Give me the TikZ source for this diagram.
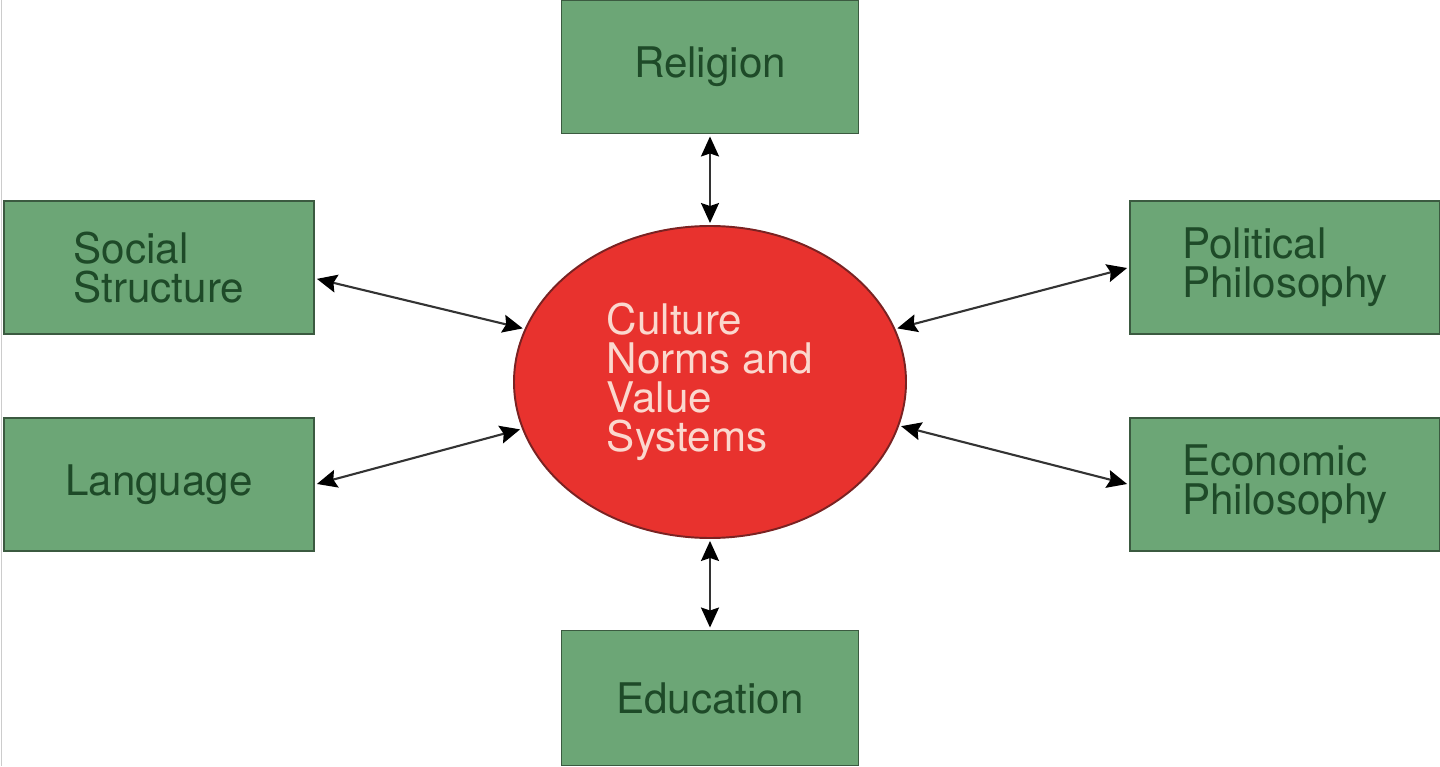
\documentclass[tikz,border=0pt]{standalone}
\usepackage{fontspec}
\setmainfont{TeX Gyre Heros}
\usetikzlibrary{arrows.meta,shapes.geometric}

\definecolor{boxfill}{HTML}{6CA676}
\definecolor{boxline}{HTML}{3B5A40}
\definecolor{boxtext}{HTML}{1E4A28}
\definecolor{corefill}{HTML}{E8322E}
\definecolor{coreline}{HTML}{7A2222}
\definecolor{coretext}{HTML}{FBD8CE}

\tikzset{
    factor/.style={draw=boxline, line width=1.1pt, fill=boxfill, text=boxtext,
        minimum width=6.2cm, minimum height=2.66cm, align=left,
        font=\fontsize{24}{22.2}\selectfont},
    core/.style={ellipse, draw=coreline, line width=1.1pt, fill=corefill, text=coretext,
        minimum width=7.84cm, minimum height=6.24cm, align=left,
        font=\fontsize{24}{22.2}\selectfont},
    tip/.tip={Stealth[length=0.4cm,width=0.36cm,inset=0.06cm,black]},
    link/.style={tip-tip, line width=1.2pt, draw=black!80,
        shorten <=0.04cm, shorten >=0.04cm}
}

\begin{document}
\begin{tikzpicture}
    \useasboundingbox (0,0) rectangle (28.8,15.32);
    \draw[gray!40, line width=1pt] (0.03,0) -- (0.03,15.32);

    \node[core] (cult) at (14.2,7.68) {Culture\\Norms and\\Value\\Systems};

    \node[factor, minimum width=5.94cm] (rel) at (14.2,13.98) {Religion};
    \node[factor, minimum width=5.94cm, minimum height=2.7cm] (edu) at (14.2,1.36) {Education};

    \node[factor] (soc) at (3.18,9.97) {Social\\Structure};
    \node[factor] (lang) at (3.18,5.63) {Language};

    \node[factor] (pol) at (25.7,9.97) {Political\\Philosophy};
    \node[factor] (eco) at (25.7,5.63) {Economic\\Philosophy};

    \draw[link] (rel.south) -- (cult.north);
    \draw[link] (edu.north) -- (cult.south);

    \draw[link] (soc.-4) -- (cult.164);
    \draw[link] (lang.east) -- (cult.194);

    \draw[link] (pol.west) -- (cult.16);
    \draw[link] (eco.west) -- (cult.347);
\end{tikzpicture}
\end{document}
